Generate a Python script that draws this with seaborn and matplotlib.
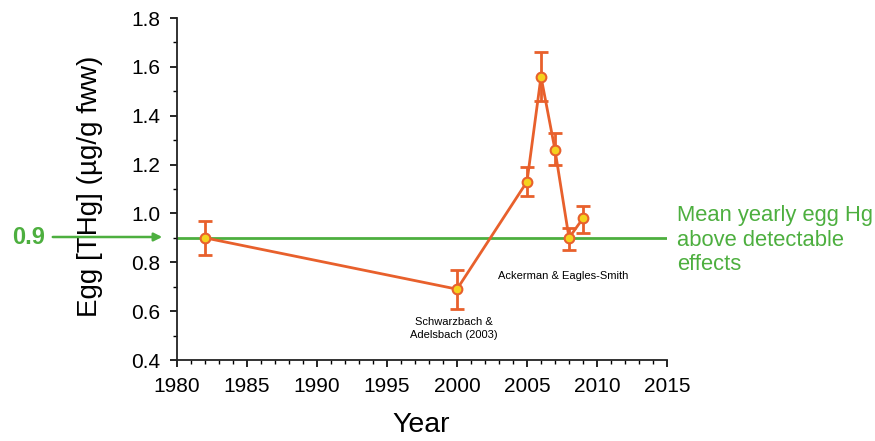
import matplotlib
matplotlib.use("Agg")
import matplotlib.pyplot as plt
from matplotlib.ticker import MultipleLocator
import seaborn as sns
import pandas as pd
import numpy as np

years = [1982, 2000, 2005, 2006, 2007, 2008, 2009]
thg = [0.90, 0.69, 1.13, 1.56, 1.26, 0.90, 0.98]
err_hi = [0.97, 0.77, 1.19, 1.66, 1.33, 0.94, 1.03]
err_lo = [0.83, 0.61, 1.07, 1.46, 1.20, 0.85, 0.92]
threshold = 0.9
xticks = [1980, 1985, 1990, 1995, 2000, 2005, 2010, 2015]
yticks = [0.4, 0.6, 0.8, 1.0, 1.2, 1.4, 1.6, 1.8]

df = pd.DataFrame({"Year": years, "THg": thg})

sns.set_style("ticks")
plt.rcParams['font.family'] = ['Liberation Sans', 'DejaVu Sans']
plt.rcParams['text.color'] = 'black'

W, H = 875, 441
fig = plt.figure(figsize=(8.75, 4.41), dpi=100)
ax = fig.add_axes([177 / W, 1 - 360 / H, 490 / W, 342 / H])

orange = "#E8602C"
green = "#4DAF3F"

ax.axhline(threshold, color=green, lw=2, zorder=1)

yerr = np.array([np.array(thg) - np.array(err_lo), np.array(err_hi) - np.array(thg)])
ax.errorbar(years, thg, yerr=yerr, fmt="none", ecolor=orange, elinewidth=2,
            capsize=5, capthick=2, zorder=2)
sns.lineplot(data=df, x="Year", y="THg", ax=ax, color=orange, lw=2,
             marker="o", markersize=7, markerfacecolor="#F5D21E",
             markeredgecolor=orange, markeredgewidth=1.5, zorder=3)

ax.set_xlim(1980, 2015)
ax.set_ylim(0.4, 1.8)
ax.set_xticks(xticks)
ax.set_yticks(yticks)
ax.set_yticklabels([f"{v:.1f}" for v in yticks])
ax.xaxis.set_minor_locator(MultipleLocator(1))
ax.yaxis.set_minor_locator(MultipleLocator(0.1))
ax.tick_params(axis="both", which="major", labelsize=15, direction="out", length=5,
               width=1.2, colors="black")
ax.tick_params(axis="x", which="major", pad=7)
ax.tick_params(axis="y", which="major", pad=7)
ax.tick_params(axis="both", which="minor", direction="out", length=3, width=1,
               colors="black")
for s in ["top", "right"]:
    ax.spines[s].set_visible(False)
for s in ["left", "bottom"]:
    ax.spines[s].set_linewidth(1.3)
    ax.spines[s].set_color("#222222")

ax.set_xlabel("Year", fontsize=20.5, color="black")
ax.set_ylabel("Egg [THg] (µg/g fww)", fontsize=20, color="black")
ax.xaxis.set_label_coords((421 - 177) / 490, -(425 - 360) / 342)
ax.yaxis.set_label_coords((90 - 177) / 490, (360 - 186) / 342)
ax.xaxis.label.set_va("center")
ax.yaxis.label.set_va("center")

ax.text(1999.8, 0.578, "Schwarzbach &\nAdelsbach (2003)", fontsize=8, ha="center", va="top",
        linespacing=1.4)
ax.text(2007.6, 0.744, "Ackerman & Eagles-Smith", fontsize=8, ha="center", va="center")

# 0.9 label with arrow outside the axes
yl = 1 - 237 / H
fig.text(29 / W, yl, "0.9", color=green, fontsize=17, fontweight="bold",
         ha="center", va="center")
ax.annotate("", xy=(165 / W, yl), xytext=(50 / W, yl),
            xycoords="figure fraction", textcoords="figure fraction",
            arrowprops=dict(arrowstyle="-|>", color=green, lw=1.8, mutation_scale=12))

fig.text(677 / W, 1 - 240 / H, "Mean yearly egg Hg\nabove detectable\neffects", color=green,
         fontsize=15.8, ha="left", va="center", linespacing=1.22)

fig.savefig("out.png", dpi=100)
